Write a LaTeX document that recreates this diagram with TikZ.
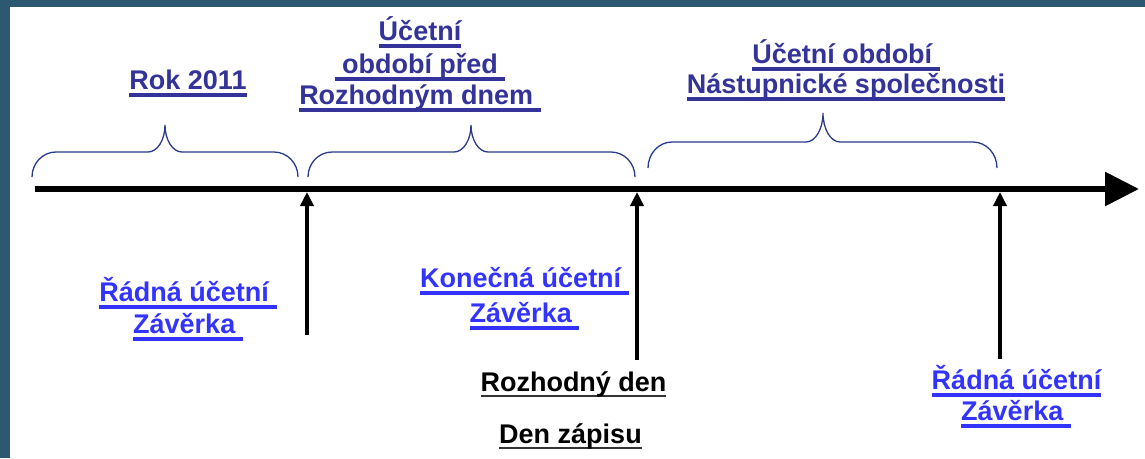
\documentclass[tikz,border=0pt]{standalone}
\usepackage{fontspec}
\setmainfont{Liberation Sans}
\usetikzlibrary{arrows.meta}
\definecolor{bgteal}{HTML}{2C5872}
\definecolor{headblue}{HTML}{333399}
\definecolor{labblue}{HTML}{3333FF}
\definecolor{bracecol}{HTML}{2A3A8C}
\definecolor{ulgray}{HTML}{333333}
% underline: #1 thickness, #2 text
\newcommand\ulx[2][3.5pt]{\setbox0\hbox{#2}\rlap{\vrule height -4pt depth \dimexpr4pt+#1\relax width \wd0}\box0}
\newcommand\ulk[2][2pt]{\setbox0\hbox{#2}\rlap{\color{ulgray}\vrule height -4pt depth \dimexpr4pt+#1\relax width \wd0}\box0}
% brace: x1, x2, xc, ybottom, ytop-line, ycusp
\newcommand\curlybrace[6]{%
 \draw[bracestyle] (#1,#4) .. controls (#1,{#4-0.552*(#4-#5)}) and ({#1+10.75},#5) .. ({#1+24},#5)
 -- ({#3-17},#5) .. controls ({#3-7.6},#5) and (#3,{#6+0.552*(#5-#6)}) .. (#3,#6)
 .. controls (#3,{#6+0.552*(#5-#6)}) and ({#3+7.6},#5) .. ({#3+17},#5)
 -- ({#2-24},#5) .. controls ({#2-10.75},#5) and (#2,{#4-0.552*(#4-#5)}) .. (#2,#4);}
\begin{document}
\begin{tikzpicture}[x=1pt,y=-1pt,
  txt/.style={font=\fontsize{27}{31}\selectfont\bfseries, inner sep=0pt, anchor=base},
  head/.style={txt, text=headblue},
  lab/.style={txt, text=labblue},
  blk/.style={txt, text=black},
  bracestyle/.style={draw=bracecol, line width=1.3pt},
  axisline/.style={line width=6pt, -{Triangle[length=34pt,width=33pt]}},
  marker/.style={line width=4pt, -{Triangle[length=14pt,width=13pt]}}]
\useasboundingbox (0,0) rectangle (1145,458);
\fill[white] (0,0) rectangle (1145,458);
\fill[bgteal] (0,0) rectangle (1145,7);
\fill[bgteal] (0,0) rectangle (10,458);

% headings
\node[head] (rok) at (188,89) {\ulx{Rok 2011}};
\node[head] (pa1) at (420,40) {\ulx{Účetní}};
\node[head] (pa2) at (420,73) {\ulx{\ období před\ }};
\node[head] (pa3) at (420,104) {\ulx{Rozhodným dnem\ }};
\node[head] (pb1) at (846,63) {\ulx{Účetní období\ }};
\node[head] (pb2) at (846,93) {\ulx{Nástupnické společnosti}};

% braces
\curlybrace{32}{298}{165}{177}{152}{125}
\curlybrace{308}{635}{471}{177}{152}{125}
\curlybrace{648}{997}{823}{168}{142}{113}

% axis
\coordinate (axL) at (35,189);
\coordinate (axR) at (1139,189);
\draw[axisline] (axL) -- (axR);

% markers
\coordinate (m1b) at (307,335);
\coordinate (m1t) at (307,192);
\coordinate (m2b) at (637,360);
\coordinate (m2t) at (637,192);
\coordinate (m3b) at (1000,359);
\coordinate (m3t) at (1000,192);
\draw[marker] (m1b) -- (m1t);
\draw[marker] (m2b) -- (m2t);
\draw[marker] (m3b) -- (m3t);

% lower labels
\node[lab] (la1) at (188,301) {\ulx{Řádná účetní\ }};
\node[lab] (la2) at (188,333) {\ulx{Závěrka\ }};
\node[lab] (lb1) at (524.5,287) {\ulx{Konečná účetní\ }};
\node[lab] (lb2) at (524.5,322) {\ulx{Závěrka\ }};
\node[blk] (rd) at (573.5,391) {\ulk{Rozhodný den}};
\node[blk] (dz) at (570.5,443) {\ulk{Den zápisu}};
\node[lab] (lc1) at (1016.5,389) {\ulx{Řádná účetní}};
\node[lab] (lc2) at (1016,420) {\ulx{Závěrka\ }};
\end{tikzpicture}
\end{document}
